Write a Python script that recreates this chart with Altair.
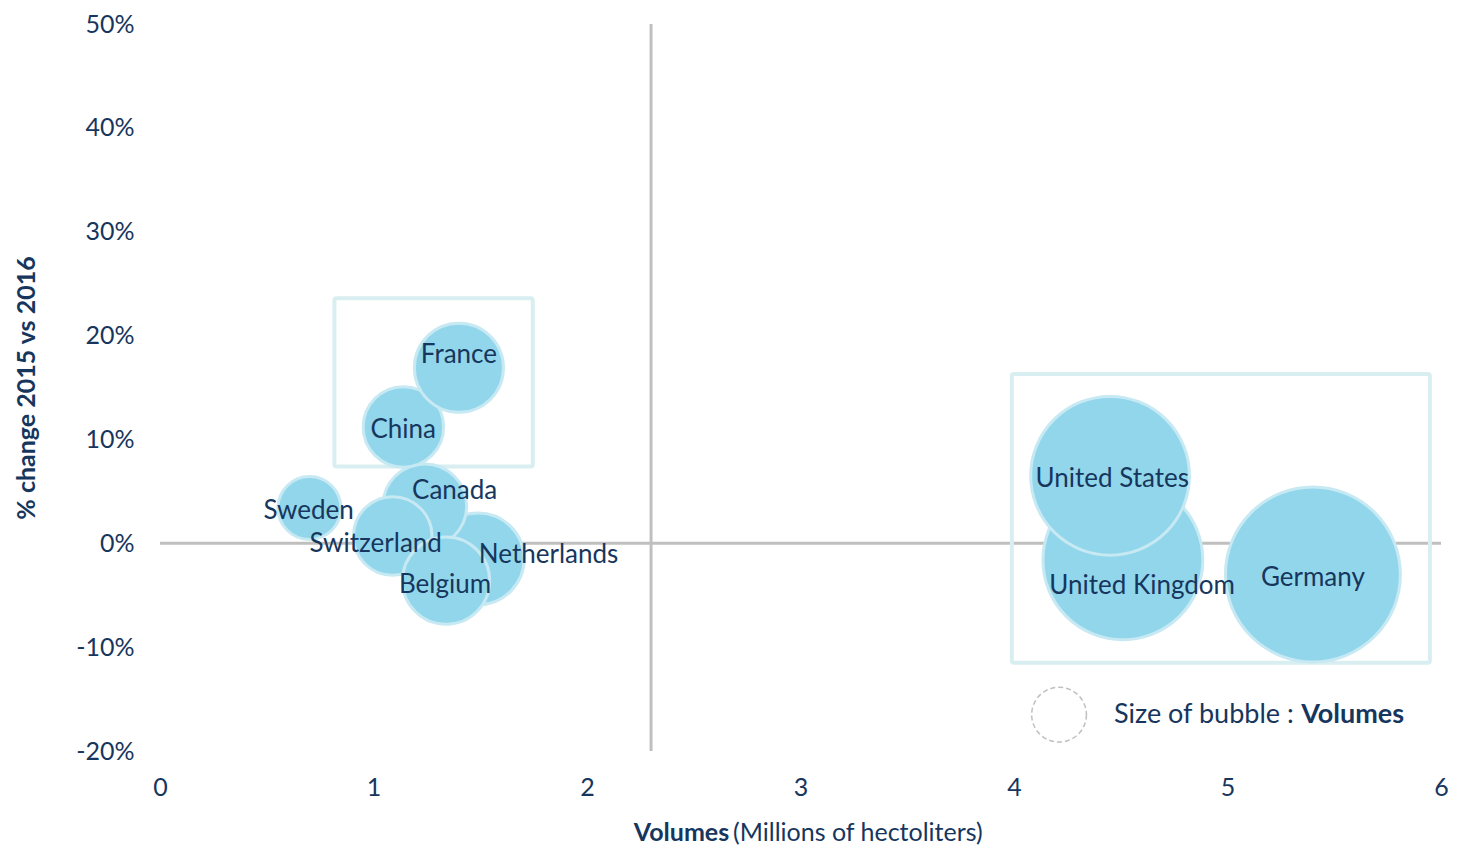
import altair as alt
import pandas as pd

# ---- data ----
countries = ["Netherlands", "Canada", "Switzerland", "Belgium", "Sweden",
             "China", "France", "United Kingdom", "United States", "Germany"]
volumes = [1.49, 1.24, 1.09, 1.34, 0.70, 1.14, 1.40, 4.51, 4.45, 5.40]
changes = [-0.015, 0.036, 0.007, -0.036, 0.034, 0.112, 0.169, -0.016, 0.065, -0.030]
label_x = [1.82, 1.38, 1.01, 1.335, 0.696, 1.139, 1.40, 4.60, 4.46, 5.40]
label_y = [-0.011, 0.050, -0.001, -0.040, 0.031, 0.109, 0.181, -0.041, 0.062, -0.033]

box_x1 = [0.817, 3.99]
box_x2 = [1.746, 5.948]
box_y1 = [0.236, 0.163]
box_y2 = [0.074, -0.115]

x_ticks = [0, 1, 2, 3, 4, 5, 6]
y_ticks = [-0.2, -0.1, 0.0, 0.1, 0.2, 0.3, 0.4, 0.5]
v_axis_cross = 2.3

legend_circle = {"x": 4.211, "y": -0.165}
legend_text1 = {"x": 5.31, "y": -0.165, "t": "Size of bubble :"}
legend_text2 = {"x": 5.345, "y": -0.165, "t": "Volumes"}

NAVY = "#17365d"
FONT = "Lato"
W, H = 1281, 727

df = pd.DataFrame({"country": countries, "vol": volumes, "chg": changes,
                   "lx": label_x, "ly": label_y})
boxes = pd.DataFrame({"x1": box_x1, "x2": box_x2, "y1": box_y1, "y2": box_y2})

xs = alt.Scale(domain=[0, 6], nice=False, zero=False)
ys = alt.Scale(domain=[-0.2, 0.5], nice=False, zero=False)

xaxis = alt.Axis(values=x_ticks, format="d", title=None, grid=False, domain=False,
                 ticks=False, labelFont=FONT, labelFontSize=25, labelColor=NAVY,
                 labelPadding=24, labelFlush=False)
yaxis = alt.Axis(values=y_ticks, title="% change 2015 vs 2016",
                 labelExpr="replace(format(datum.value, '.0%'), '\u2212', '-')",
                 grid=False, domain=False, ticks=False, labelFont=FONT,
                 labelFontSize=25, labelColor=NAVY, labelPadding=26,
                 labelFlush=False,
                 titleFont=FONT, titleFontSize=25, titleFontWeight="bold",
                 titleColor=NAVY, titlePadding=36)

base = alt.Chart(df)

axes_layer = base.mark_point(opacity=0).encode(
    x=alt.X("vol:Q", scale=xs, axis=xaxis),
    y=alt.Y("chg:Q", scale=ys, axis=yaxis),
)

hline = alt.Chart(pd.DataFrame({"y": [0.0]})).mark_rule(
    color="#bfbfbf", strokeWidth=3).encode(
    y=alt.Y("y:Q", scale=ys), x=alt.value(0), x2=alt.value(W))

vline = alt.Chart(pd.DataFrame({"x": [v_axis_cross]})).mark_rule(
    color="#bfbfbf", strokeWidth=3).encode(
    x=alt.X("x:Q", scale=xs), y=alt.value(0), y2=alt.value(H))

box_layer = alt.Chart(boxes).mark_rect(
    fill=None, filled=False, stroke="#d9eef0", strokeWidth=4, cornerRadius=2).encode(
    x=alt.X("x1:Q", scale=xs), x2="x2:Q",
    y=alt.Y("y1:Q", scale=ys), y2="y2:Q")

bubbles = base.mark_circle(opacity=1, fill="#92d6eb", stroke="#c6e9f3",
                           strokeWidth=3).encode(
    x=alt.X("vol:Q", scale=xs),
    y=alt.Y("chg:Q", scale=ys),
    size=alt.Size("vol:Q", scale=alt.Scale(type="linear", domain=[0, 6],
                                           range=[0, 34000]), legend=None),
    order=alt.Order("order:Q"),
).transform_window(order="row_number()")

labels = base.mark_text(font=FONT, fontSize=26, color=NAVY, align="center",
                        baseline="middle").encode(
    x=alt.X("lx:Q", scale=xs), y=alt.Y("ly:Q", scale=ys), text="country:N")

leg_c = alt.Chart(pd.DataFrame([legend_circle])).mark_point(
    shape="circle", filled=False, stroke="#bfbfbf", strokeWidth=1.5,
    strokeDash=[5, 3], size=3000, opacity=1).encode(
    x=alt.X("x:Q", scale=xs), y=alt.Y("y:Q", scale=ys))

leg_t1 = alt.Chart(pd.DataFrame([legend_text1])).mark_text(
    font=FONT, fontSize=27, color=NAVY, align="right", baseline="middle").encode(
    x=alt.X("x:Q", scale=xs), y=alt.Y("y:Q", scale=ys), text="t:N")

leg_t2 = alt.Chart(pd.DataFrame([legend_text2])).mark_text(
    font=FONT, fontSize=27, color=NAVY, fontWeight="bold", align="left",
    baseline="middle").encode(
    x=alt.X("x:Q", scale=xs), y=alt.Y("y:Q", scale=ys), text="t:N")

xt1 = alt.Chart(pd.DataFrame({"x": [2.666], "t": ["Volumes"]})).mark_text(
    font=FONT, fontSize=25, color=NAVY, fontWeight="bold", align="right",
    baseline="middle").encode(
    x=alt.X("x:Q", scale=xs), y=alt.value(H + 82), text="t:N")

xt2 = alt.Chart(pd.DataFrame({"x": [2.684], "t": ["(Millions of hectoliters)"]})).mark_text(
    font=FONT, fontSize=25, color=NAVY, align="left", baseline="middle").encode(
    x=alt.X("x:Q", scale=xs), y=alt.value(H + 82), text="t:N")

chart = alt.layer(
    axes_layer, hline, vline, box_layer, bubbles, labels, leg_c, leg_t1, leg_t2,
    xt1, xt2
).properties(
    width=W, height=H, background="white",
    autosize=alt.AutoSizeParams(type="none"),
    padding={"left": 152, "top": 16, "right": 8, "bottom": 94},
).configure_view(strokeWidth=0)

chart.save("out.html", embed_options={"renderer": "svg", "actions": False})
